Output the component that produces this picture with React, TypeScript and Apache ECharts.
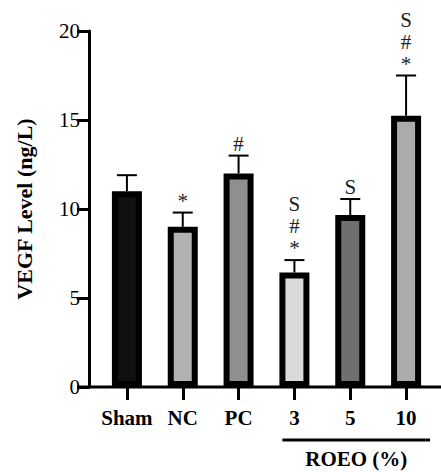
import React, { useEffect, useRef } from "react";
import * as echarts from "echarts";

const categories = ["Sham", "NC", "PC", "3", "5", "10"];
const means = [11.0, 9.0, 12.0, 6.43, 9.66, 15.24];
const errors = [0.9, 0.8, 1.0, 0.7, 0.9, 2.26];
const sigLabels = ["", "*", "#", "S\n#\n*", "S", "S\n#\n*"];
const barColors = ["#101010", "#b2b2b2", "#8f8f8f", "#dadada", "#6f6f6f", "#ababab"];
const yTicks = { min: 0, max: 20, interval: 5 };
const groupLabel = "ROEO (%)";

const W = 441;
const H = 472;
const GRID_LEFT = 99;
const GRID_RIGHT = 7;
const GRID_TOP = 31;
const GRID_BOTTOM = 85;
const Y_OFFSET = 10;
const SERIF = "'Liberation Serif', 'DejaVu Serif', serif";

export default function App() {
  const ref = useRef<HTMLDivElement>(null);
  useEffect(() => {
    if (!ref.current) return;
    const chart = echarts.init(ref.current, undefined, { renderer: "svg" });
    const option: any = {
      animation: false,
      backgroundColor: "#ffffff",
      grid: { left: GRID_LEFT, right: GRID_RIGHT, top: GRID_TOP, bottom: GRID_BOTTOM },
      xAxis: {
        type: "category",
        data: categories,
        axisLine: { show: false },
        axisTick: { show: true, alignWithLabel: true, length: 13, lineStyle: { color: "#000", width: 3 } },
        axisLabel: {
          color: "#000",
          fontSize: 21,
          fontWeight: "bold",
          fontFamily: SERIF,
          margin: 20,
          interval: 0,
          hideOverlap: false,
        },
      },
      yAxis: {
        type: "value",
        min: yTicks.min,
        max: yTicks.max,
        interval: yTicks.interval,
        offset: Y_OFFSET,
        name: "VEGF Level (ng/L)",
        nameLocation: "middle",
        nameGap: 54,
        nameTextStyle: { color: "#000", fontSize: 22, fontWeight: "bold", fontFamily: SERIF },
        axisLine: { show: true, lineStyle: { color: "#000", width: 3 } },
        axisTick: { show: true, length: 12, lineStyle: { color: "#000", width: 3 } },
        axisLabel: { color: "#000", fontSize: 21, fontFamily: SERIF, margin: 9 },
        splitLine: { show: false },
      },
      series: [
        {
          type: "bar",
          barWidth: 30,
          data: means.map((v, i) => ({
            value: v,
            itemStyle: { color: barColors[i], borderColor: "#000", borderWidth: 6 },
          })),
          z: 2,
        },
        {
          type: "custom",
          z: 1,
          data: means.map((v, i) => [i, v, errors[i]]),
          renderItem: (params: any, api: any) => {
            const idx = api.value(0);
            const v = api.value(1);
            const e = api.value(2);
            const base = api.coord([idx, v]);
            const top = api.coord([idx, v + e]);
            const half = 10;
            const label = sigLabels[params.dataIndex];
            return {
              type: "group",
              children: [
                {
                  type: "line",
                  shape: { x1: base[0], y1: base[1], x2: top[0], y2: top[1] },
                  style: { stroke: "#000", lineWidth: 2 },
                },
                {
                  type: "line",
                  shape: { x1: top[0] - half, y1: top[1], x2: top[0] + half, y2: top[1] },
                  style: { stroke: "#000", lineWidth: 2 },
                },
                {
                  type: "text",
                  x: top[0],
                  y: top[1] - 1,
                  style: {
                    text: label,
                    fill: "#222",
                    fontSize: 21,
                    fontFamily: SERIF,
                    align: "center",
                    verticalAlign: "bottom",
                    lineHeight: 22,
                  },
                },
              ],
            };
          },
        },
      ],
    };
    chart.setOption(option);

    const y0 = chart.convertToPixel({ yAxisIndex: 0 }, 0) as number;
    const c3 = chart.convertToPixel({ xAxisIndex: 0 }, "3") as number;
    const c10 = chart.convertToPixel({ xAxisIndex: 0 }, "10") as number;
    const axisX = GRID_LEFT - Y_OFFSET;
    chart.setOption({
      graphic: [
        {
          type: "line",
          shape: { x1: axisX - 12, y1: y0, x2: W, y2: y0 },
          style: { stroke: "#000", lineWidth: 3 },
          z: 10,
        },
        {
          type: "line",
          shape: { x1: c3 - 12, y1: y0 + 53, x2: c10 + 24, y2: y0 + 53 },
          style: { stroke: "#000", lineWidth: 3 },
        },
        {
          type: "text",
          x: (c3 - 12 + c10 + 24) / 2,
          y: y0 + 72,
          style: {
            text: groupLabel,
            fill: "#000",
            fontSize: 21,
            fontWeight: "bold",
            fontFamily: SERIF,
            align: "center",
            verticalAlign: "middle",
          },
        },
      ],
    });
    return () => chart.dispose();
  }, []);
  return (
    <div
      ref={ref}
      style={{ position: "fixed", left: 0, top: 0, width: W, height: H, background: "#fff" }}
    />
  );
}
